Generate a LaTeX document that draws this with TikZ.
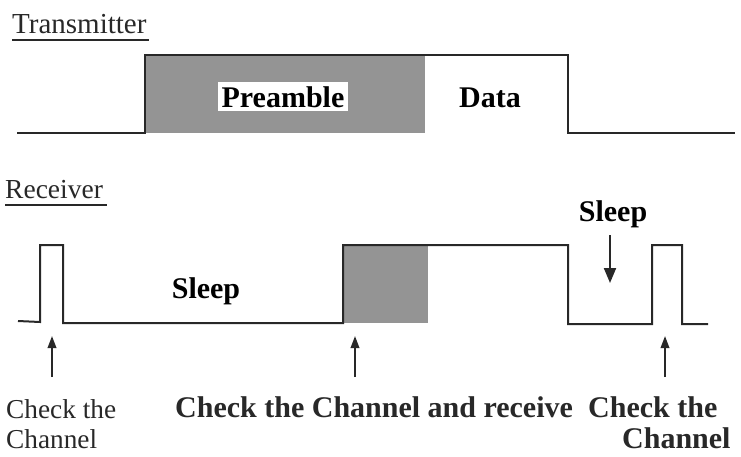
\documentclass[tikz,border=0pt]{standalone}
\usepackage{fontspec}
\setmainfont{Liberation Serif}
\usetikzlibrary{arrows.meta}
\definecolor{pgray}{RGB}{148,148,148}
\definecolor{ink}{RGB}{40,40,40}
\begin{document}
\begin{tikzpicture}[x=1pt,y=-1pt,
  wave/.style={draw=ink, line width=2pt, line join=miter},
  arr/.style={draw=ink, line width=2pt, -{Triangle[width=8.5pt,length=12pt]}},
  bigarr/.style={draw=ink, line width=2pt, -{Triangle[width=12pt,length=15pt]}},
  uline/.style={draw=ink, line width=1.8pt},
  headtxt/.style={inner sep=0pt, anchor=base west, text=ink, font=\fontsize{29}{34}\selectfont},
  bigtxt/.style={inner sep=0pt, anchor=base, text=black, font=\bfseries\fontsize{30}{36}\selectfont},
  captxt/.style={inner sep=0pt, anchor=base west, text=ink, font=\bfseries\fontsize{30}{36}\selectfont},
  smalltxt/.style={inner sep=0pt, anchor=base west, text=ink, font=\fontsize{27.3}{32}\selectfont}]
\useasboundingbox (0,0) rectangle (741,456);

% headings
\node[headtxt] (tx) at (12,33) {Transmitter};
\coordinate (tul0) at (12,40); \coordinate (tul1) at (149,40);
\draw[uline] (tul0) -- (tul1);
\node[headtxt, font=\fontsize{27.5}{32}\selectfont] (rx) at (5,198) {Receiver};
\coordinate (rul0) at (5,205); \coordinate (rul1) at (107,205);
\draw[uline] (rul0) -- (rul1);

% transmitter waveform
\coordinate (t0) at (17,133);
\coordinate (t1) at (145,133);
\coordinate (t2) at (145,55);
\coordinate (t3) at (568,55);
\coordinate (t4) at (568,133);
\coordinate (t5) at (735,133);
\coordinate (tm) at (425,133);
\fill[pgray] (t2) rectangle (tm);
\draw[wave] (t0) -- (t1) -- (t2) -- (t3) -- (t4) -- (t5);
\node[bigtxt, fill=white, inner sep=4pt] (pre) at (283,107) {Preamble};
\node[bigtxt] (data) at (490,107) {Data};

% receiver waveform
\coordinate (r0) at (18,321);
\coordinate (r1) at (40,322);
\coordinate (r2) at (40,245);
\coordinate (r3) at (63,245);
\coordinate (r4) at (63,323);
\coordinate (r5) at (343,323);
\coordinate (r6) at (343,245);
\coordinate (r7) at (568,245);
\coordinate (r8) at (568,324);
\coordinate (r9) at (652,324);
\coordinate (r10) at (652,245);
\coordinate (r11) at (682,245);
\coordinate (r12) at (682,324);
\coordinate (r13) at (708,324);
\coordinate (rm) at (428,323);
\fill[pgray] (r6) rectangle (rm);
\draw[wave] (r0) -- (r1) -- (r2) -- (r3) -- (r4) -- (r5) -- (r6) -- (r7) -- (r8) -- (r9) -- (r10) -- (r11) -- (r12) -- (r13);

\node[bigtxt] (sleep1) at (206,298) {Sleep};
\node[bigtxt] (sleep2) at (613,221) {Sleep};
\coordinate (s2a) at (610,235); \coordinate (s2b) at (610,283);
\draw[bigarr] (s2a) -- (s2b);

% arrows from below
\coordinate (a1s) at (52,377); \coordinate (a1e) at (52,336);
\coordinate (a2s) at (355,377); \coordinate (a2e) at (355,336);
\coordinate (a3s) at (665,377); \coordinate (a3e) at (665,336);
\draw[arr] (a1s) -- (a1e);
\draw[arr] (a2s) -- (a2e);
\draw[arr] (a3s) -- (a3e);

% captions
\node[smalltxt] (c1a) at (6,418) {Check the};
\node[smalltxt] (c1b) at (6,448) {Channel};
\node[captxt] (c2) at (175,417) {Check the Channel and receive};
\node[captxt] (c3a) at (588,417) {Check the};
\node[captxt] (c3b) at (622,448) {Channel};
\end{tikzpicture}
\end{document}
